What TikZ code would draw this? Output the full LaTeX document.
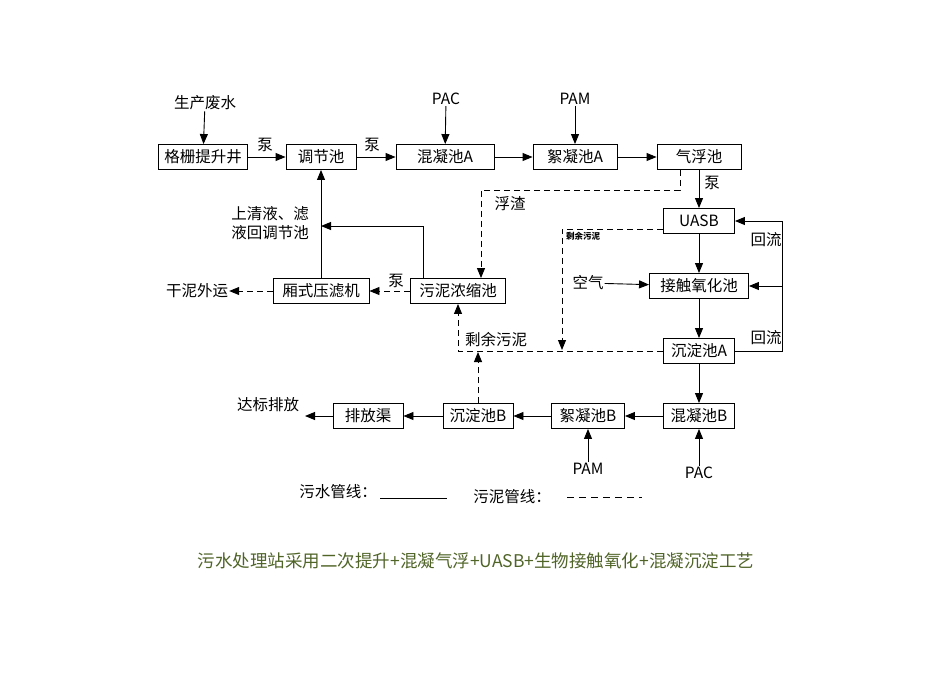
\documentclass[tikz,border=0pt]{standalone}
\usepackage{fontspec}
\setmainfont{Noto Sans CJK SC}[Scale=1]
\usetikzlibrary{arrows.meta}
\definecolor{cap}{RGB}{80,100,40}
\begin{document}
\begin{tikzpicture}[x=1pt,y=-1pt,
  box/.style={draw,line width=0.9pt,minimum height=25pt,inner sep=0pt,font=\fontsize{15.5}{17}\selectfont},
  lab/.style={font=\fontsize{15.5}{19}\selectfont,inner sep=1pt},
  ar/.style={line width=0.9pt,-{Triangle[length=10pt,width=8pt]}},
  ln/.style={line width=0.9pt},
  da/.style={line width=0.9pt,dash pattern=on 6pt off 4pt},
  dar/.style={da,-{Triangle[length=10pt,width=8pt]}}]
\useasboundingbox (0,0) rectangle (950,672);
\node[box,minimum width=89pt] (gs) at (203,157) {格栅提升井};
\node[box,minimum width=70pt] (tj) at (321,157) {调节池};
\node[box,minimum width=98pt] (hna) at (445,157) {混凝池A};
\node[box,minimum width=84pt] (xna) at (575,157) {絮凝池A};
\node[box,minimum width=84pt] (qf) at (699,157) {气浮池};
\node[box,minimum width=71pt] (uasb) at (699,221) {UASB};
\node[box,minimum width=99pt] (jc) at (699,286) {接触氧化池};
\node[box,minimum width=71pt] (cda) at (699,351) {沉淀池A};
\node[box,minimum width=71pt] (hnb) at (699,416) {混凝池B};
\node[box,minimum width=73pt] (xnb) at (588,416) {絮凝池B};
\node[box,minimum width=70pt] (cdb) at (478,416) {沉淀池B};
\node[box,minimum width=70pt] (pfq) at (368,416) {排放渠};
\node[box,minimum width=95pt] (wn) at (458,291) {污泥浓缩池};
\node[box,minimum width=96pt] (yl) at (321,291) {厢式压滤机};

\node[lab] (scfs) at (205,103) {生产废水};
\node[lab] (pac1) at (446,99) {PAC};
\node[lab] (pam1) at (575,99) {PAM};
\node[lab] (pam2) at (588,469) {PAM};
\node[lab] (pac2) at (699,473) {PAC};
\node[lab] (kq) at (588,283) {空气};
\node[lab] (gn) at (197,291) {干泥外运};
\node[lab] (db) at (268,405) {达标排放};

\node[lab] at (265,145) {泵};
\node[lab] at (372,145) {泵};
\node[lab] at (712,183) {泵};
\node[lab] at (396,281) {泵};
\node[lab] at (510,204) {浮渣};
\node[lab,align=right] at (270,223) {上清液、滤\\液回调节池};
\node[lab,font=\fontsize{8.5}{9}\selectfont\bfseries] at (583,236) {剩余污泥};
\node[lab] at (496,340) {剩余污泥};
\node[lab] at (766,240) {回流};
\node[lab] at (766,338) {回流};

\draw[ar] (scfs) -- (gs);
\draw[ar] (gs) -- (tj);
\draw[ar] (tj) -- (hna);
\draw[ar] (hna) -- (xna);
\draw[ar] (xna) -- (qf);
\draw[ar] (pac1) -- (hna);
\draw[ar] (pam1) -- (xna);
\draw[ar] (qf) -- (uasb);
\draw[ar] (uasb) -- (jc);
\draw[ar] (jc) -- (cda);
\draw[ar] (cda) -- (hnb);
\draw[ar] (hnb) -- (xnb);
\draw[ar] (xnb) -- (cdb);
\draw[ar] (cdb) -- (pfq);
\draw[ar] (pfq.west) -- (305,416) coordinate (dbend);
\draw[ar] (pam2) -- (xnb);
\draw[ar] (pac2) -- (hnb);
\draw[ar] (kq) -- (jc);
\draw[ln] (cda.east) -| (782,221);
\draw[ar] (782,221) -- (uasb.east);
\draw[ar] (782,286) -- (jc.east);
\draw[ar] (yl.north) -- (tj.south);
\draw[ar] (wn.north -| 423,0) |- (321,226);
\draw[dar] (qf.south -| 680,0) |- (481,190) -- (wn.north -| 481,0);
\draw[dar] (wn) -- (yl);
\draw[dar] (yl) -- (gn);
\draw[dar] (uasb.west |- 0,229) -| (562,350);
\draw[dar] (cda.west) -| (wn.south -| 458,0);
\draw[dar] (cdb.north) -- (478,352);

\node[lab] at (338,492) {污水管线：};
\draw[ln] (380,498) -- (447,498);
\node[lab] at (512,497) {污泥管线：};
\draw[line width=0.9pt,dash pattern=on 7pt off 5pt] (567,497) -- (642,497);
\node[lab,text=cap,font=\fontsize{17.5}{20}\selectfont] at (476,561) {污水处理站采用二次提升+混凝气浮+UASB+生物接触氧化+混凝沉淀工艺};
\end{tikzpicture}
\end{document}
